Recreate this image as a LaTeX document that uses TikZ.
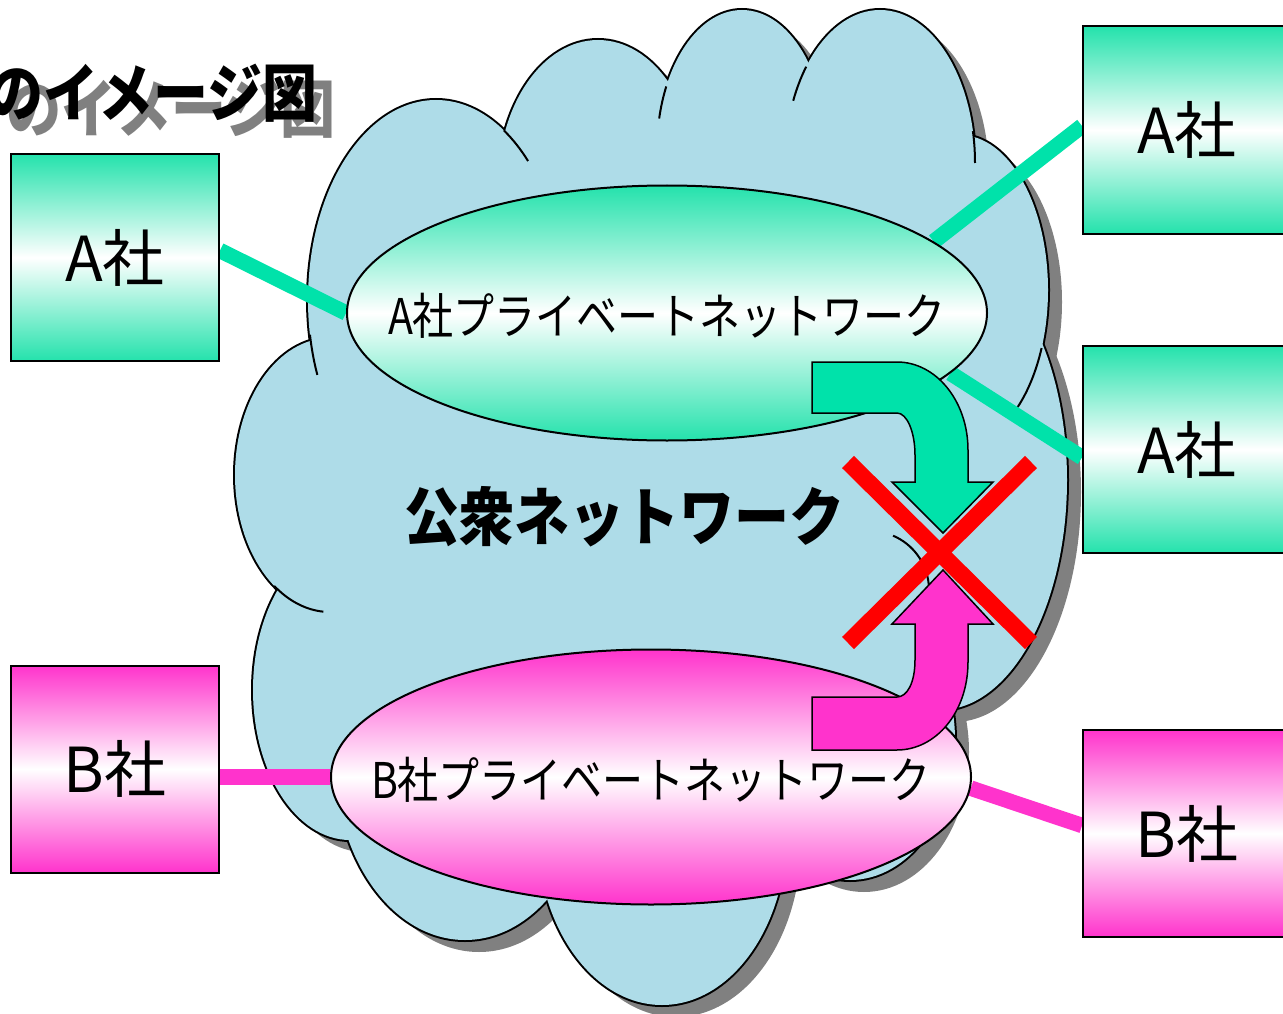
\documentclass[tikz,border=0pt]{standalone}
\usepackage{fontspec}
\usepackage{graphicx}
\usetikzlibrary{shapes.geometric,calc}
\newfontfamily\jp{Noto Sans CJK JP}
\definecolor{agr}{RGB}{0,226,170}
\definecolor{agrs}{RGB}{36,226,172}
\definecolor{bmg}{RGB}{255,51,204}
\definecolor{cloudc}{RGB}{174,220,232}
\definecolor{shadowc}{RGB}{128,128,128}
\definecolor{xred}{RGB}{255,0,0}
\pgfdeclarelayer{back}
\pgfdeclarelayer{lines}
\pgfsetlayers{back,lines,main}
\def\lobelist{436/300/128/200, 598/185/100/145, 742/150/85/140, 880/163/95/153, 960/290/88/155, 940/480/127/230, 850/740/105/140, 662/830/125/175, 465/760/130/180, 350/690/97/150, 330/475/95/137}
\tikzset{
  cobox/.style={rectangle, draw=black, line width=2pt, minimum width=208pt, minimum height=207pt, inner sep=0pt, font=\jp\fontsize{62}{70}\selectfont},
  abox/.style={cobox, top color=agrs, bottom color=agrs, middle color=white},
  bbox/.style={cobox, top color=bmg, bottom color=bmg, middle color=white},
  net/.style={ellipse, draw=black, line width=2pt, minimum width=640pt, minimum height=255pt, inner sep=0pt},
  anet/.style={net, top color=agrs, bottom color=agrs, middle color=white},
  bnet/.style={net, top color=bmg, bottom color=bmg, middle color=white},
  nettext/.style={inner sep=0pt, font=\jp\fontsize{41}{45}\selectfont},
  aline/.style={draw=agr, line width=15.5pt},
  bline/.style={draw=bmg, line width=15.5pt},
  bendarrow/.style={draw=black, line width=1.5pt, line join=miter},
  crossline/.style={draw=xred, line width=17pt},
  innerarc/.style={draw=black, line width=2pt},
  titletext/.style={anchor=east, inner sep=0pt, font=\jp\bfseries\fontsize{55}{60}\selectfont},
}
\begin{document}
\begin{tikzpicture}[x=1pt,y=-1pt]
\useasboundingbox (0,0) rectangle (1283,1014);

% ---- cloud (public network) ----
\begin{pgfonlayer}{back}
  \foreach \cx/\cy/\rx/\ry in \lobelist {\fill[shadowc] (\cx+14,\cy+12) ellipse[x radius=\rx, y radius=\ry];}
  \foreach \cx/\cy/\rx/\ry in \lobelist {\draw[black, line width=4pt] (\cx,\cy) ellipse[x radius=\rx, y radius=\ry];}
  \foreach \cx/\cy/\rx/\ry in \lobelist {\fill[cloudc] (\cx,\cy) ellipse[x radius=\rx, y radius=\ry];}
  \fill[cloudc] (436,300) -- (598,185) -- (742,150) -- (880,163) -- (960,290) -- (940,480) -- (850,740) -- (662,830) -- (465,760) -- (350,690) -- (330,475) -- cycle;
  % inner arcs of the cloud
  \draw[innerarc] ($(436,300)+(170:128 and 200)$) arc[start angle=170, end angle=158, x radius=128, y radius=200];
  \draw[innerarc] ($(436,300)+(-58:128 and 200)$) arc[start angle=-58, end angle=-44, x radius=128, y radius=200];
  \draw[innerarc] ($(742,150)+(207:85 and 140)$) arc[start angle=207, end angle=193, x radius=85, y radius=140];
  \draw[innerarc] ($(880,163)+(219:95 and 153)$) arc[start angle=219, end angle=204, x radius=95, y radius=153];
  \draw[innerarc] ($(880,163)+(-12:95 and 153)$) arc[start angle=-12, end angle=0, x radius=95, y radius=153];
  \draw[innerarc] ($(960,290)+(22:88 and 155)$) arc[start angle=22, end angle=49, x radius=88, y radius=155];
  \draw[innerarc] ($(330,475)+(126:95 and 137)$) arc[start angle=126, end angle=94, x radius=95, y radius=137];
  \draw[innerarc] ($(870,590)+(-67:59)$) arc[start angle=-67, end angle=-5, radius=59];
  \node[inner sep=0pt, font=\jp\bfseries\fontsize{55}{60}\selectfont] (pub) at (624,517) {\scalebox{1}[1.15]{公衆ネットワーク}};
\end{pgfonlayer}

% ---- title ----
\node[titletext, text=shadowc] (titleshadow) at (336,109) {\scalebox{1}[1.15]{のイメージ図}};
\node[titletext, text=black] (title) at (318,93) {\scalebox{1}[1.15]{のイメージ図}};

% ---- company boxes ----
\node[abox] (boxAL) at (115,257.5) {A社};
\node[abox] (boxAR1) at (1187,130) {A社};
\node[abox] (boxAR2) at (1187,449.5) {A社};
\node[bbox] (boxBL) at (115,769) {B社};
\node[bbox] (boxBR) at (1187,833.5) {B社};

% ---- private networks ----
\node[anet] (ellA) at (667,313) {};
\node[nettext] (ellAtext) at (667,316) {\scalebox{1}[1.2]{A社プライベートネットワーク}};
\node[bnet] (ellB) at (651,777) {};
\node[nettext] (ellBtext) at (651,780) {\scalebox{1}[1.2]{B社プライベートネットワーク}};

% ---- connectors ----
\begin{pgfonlayer}{lines}
  \draw[aline] ($(boxAL.east)+(0,-7)$) -- (ellA.west);
  \draw[aline] (ellA.15) -- ($(boxAR1.west)+(0,-4)$);
  \draw[aline] (ellA.-12.6) -- ($(boxAR2.west)+(0,8)$);
  \draw[bline] (boxBL.east |- ellB.west) -- (ellB.west);
  \draw[bline] (ellB.-2.9) -- ($(boxBR.west)+(0,-8)$);
\end{pgfonlayer}

% ---- bent arrows ----
\draw[bendarrow, fill=agr] (812,362) -- (897,362) .. controls (936,362) and (968,401) .. (968,450) -- (968,482) -- (993,482) -- (943,533) -- (892,482) -- (915,482) -- (915,455) .. controls (915,432) and (907,413) .. (897,413) -- (812,413) -- cycle;
\draw[bendarrow, fill=bmg] (812,750) -- (897,750) .. controls (936,750) and (968,712) .. (968,662) -- (968,624) -- (993,624) -- (943,570) -- (892,624) -- (915,624) -- (915,660) .. controls (915,683) and (907,697) .. (897,697) -- (812,697) -- cycle;

% ---- red cross ----
\coordinate (x1) at (848,462);
\coordinate (x2) at (1031,643);
\coordinate (x3) at (1031,462);
\coordinate (x4) at (848,643);
\draw[crossline] (x1) -- (x2);
\draw[crossline] (x3) -- (x4);
\end{tikzpicture}
\end{document}
